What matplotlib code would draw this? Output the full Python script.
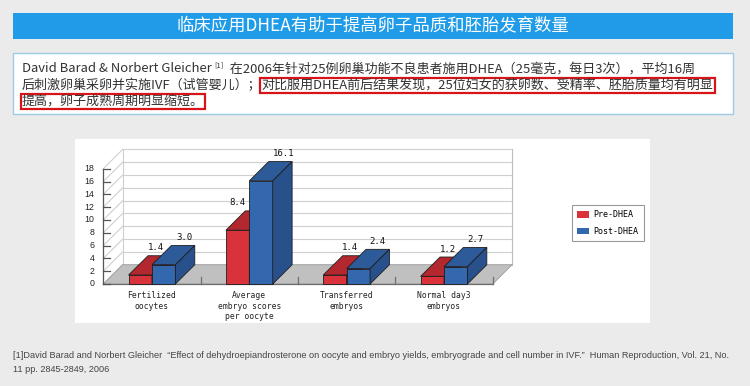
import numpy as np
import matplotlib.pyplot as plt
from matplotlib.patches import Rectangle, Polygon, Patch

plt.rcParams['font.family'] = ['Noto Sans CJK SC', 'DejaVu Sans']

# donnees du graphique
categories = ["Fertilized\noocytes", "Average\nembryo scores\nper oocyte",
              "Transferred\nembryos", "Normal day3\nembryos"]
pre_dhea = [1.4, 8.4, 1.4, 1.2]
post_dhea = [3.0, 16.1, 2.4, 2.7]
series_names = ["Pre-DHEA", "Post-DHEA"]
yticks = list(range(0, 19, 2))

titre = "临床应用DHEA有助于提高卵子品质和胚胎发育数量"
ref1 = "[1]David Barad and Norbert Gleicher  \u201cEffect of dehydroepiandrosterone on oocyte and embryo yields, embryograde and cell number in IVF.\u201d  Human Reproduction, Vol. 21, No."
ref2 = "11 pp. 2845-2849, 2006"

W, H = 750, 386
fig = plt.figure(figsize=(W / 100, H / 100), dpi=100)
fig.patch.set_facecolor('#ebebeb')
renderer = fig.canvas.get_renderer()

# fond en coordonnees pixels
bg = fig.add_axes([0, 0, 1, 1])
bg.set_xlim(0, W)
bg.set_ylim(H, 0)
bg.axis('off')

bg.add_patch(Rectangle((13, 13), 720, 26, fc='#1f9be8', ec='none'))
bg.text(373, 26, titre, color='white', fontsize=12.5, ha='center', va='center')

bg.add_patch(Rectangle((13, 53), 720, 61, fc='white', ec='#9ccbe6', lw=1))
bg.add_patch(Rectangle((75, 139), 575, 184, fc='white', ec='none'))

txt_col = '#333333'
fs = 9.4
box = dict(boxstyle='square,pad=0.1', fc='none', ec='#d7141a', lw=1.6)

# ligne 1 avec exposant
x = 22
t = bg.text(x, 72.5, "David Barad & Norbert Gleicher ", fontsize=fs, va='baseline', color=txt_col)
x += t.get_window_extent(renderer).width
t = bg.text(x, 67.5, "[1]", fontsize=5.5, va='baseline', color=txt_col)
x += t.get_window_extent(renderer).width
bg.text(x, 72.5, "  在2006年针对25例卵巢功能不良患者施用DHEA（25毫克，每日3次），平均16周",
        fontsize=fs, va='baseline', color=txt_col)

x = 22
t = bg.text(x, 89, "后刺激卵巢采卵并实施IVF（试管婴儿）；", fontsize=fs, va='baseline', color=txt_col)
x += t.get_window_extent(renderer).width
bg.text(x, 89, "对比服用DHEA前后结果发现，25位妇女的获卵数、受精率、胚胎质量均有明显",
        fontsize=fs, va='baseline', color=txt_col, bbox=box)
bg.text(22, 105, "提高，卵子成熟周期明显缩短。", fontsize=fs, va='baseline', color=txt_col, bbox=box)

# reference en bas
fn = ['Liberation Sans Narrow', 'Liberation Sans', 'DejaVu Sans']
t1 = bg.text(13, 355, ref1, fontsize=6.5, family=fn, va='center', color='#444444')
w = t1.get_window_extent(renderer).width
t1.set_fontsize(6.5 * 715 / w)
bg.text(13, 369, ref2, fontsize=t1.get_fontsize(), family=fn, va='center', color='#444444')

# graphique 3D simule
n = len(categories)
ax_w, ax_h = 389.4, 115.3          # taille de la zone en pixels
ax = fig.add_axes([103.3 / W, 1 - 284 / H, ax_w / W, ax_h / H])
ax.set_xlim(0, n)
ax.set_ylim(0, 18)
ax.axis('off')
px_x = ax_w / n
px_y = ax_h / 18
dx = 19.4 / px_x
dy = 19.3 / px_y

grid_col = '#cfcfcf'
for v in yticks:
    ax.plot([dx, n + dx], [v + dy, v + dy], color=grid_col, lw=0.8, zorder=1, clip_on=False)
    ax.plot([0, dx], [v, v + dy], color=grid_col, lw=0.8, zorder=1, clip_on=False)
ax.plot([dx, dx], [dy, 18 + dy], color=grid_col, lw=0.8, zorder=1, clip_on=False)
ax.plot([n + dx, n + dx], [dy, 18 + dy], color='#bdbdbd', lw=0.8, zorder=1, clip_on=False)

ax.add_patch(Polygon([(0, 0), (n, 0), (n + dx, dy), (dx, dy)], closed=True,
                     fc='#c0c0c0', ec='#9a9a9a', lw=0.6, zorder=2, clip_on=False))
ax.plot([0, n], [0, 0], color='#6e6e6e', lw=0.9, zorder=2, clip_on=False)
ax.plot([0, 0], [0, 18], color='#555555', lw=0.9, zorder=2, clip_on=False)
for v in yticks:
    ax.plot([0, 7 / px_x], [v, v], color='#555555', lw=0.9, zorder=2, clip_on=False)
    ax.text(-9 / px_x, v, str(v), ha='right', va='center', fontsize=6.3,
            family='Liberation Sans', color='#222222')
for i in range(1, n + 1):
    ax.plot([i, i], [0, 7 / px_y], color='#6e6e6e', lw=0.9, zorder=2, clip_on=False)

mono = 'DejaVu Sans Mono'
for i, lab in enumerate(categories):
    ax.text(i + 0.5, -7.5 / px_y, lab, ha='center', va='top', fontsize=5.8,
            family=mono, linespacing=1.2, color='#222222')

bw = 23.4 / px_x
colors = [('#d9323a', '#b3272e', '#a42328'), ('#3468ae', '#2d5a98', '#28508a')]
label_shift_px = [[-4, -20, -4, -4], [1, 3, 0, 0]]
xs = np.arange(n) + 0.5
for k, vals in enumerate([pre_dhea, post_dhea]):
    front, top, side = colors[k]
    z = 3 + k
    bars = ax.bar(xs - bw + k * bw, vals, width=bw, align='edge', color=front,
                  edgecolor='#1e1e1e', linewidth=0.6, zorder=z, clip_on=False)
    for j, b in enumerate(bars):
        x0, h, w = b.get_x(), b.get_height(), b.get_width()
        ax.add_patch(Polygon([(x0, h), (x0 + w, h), (x0 + w + dx, h + dy), (x0 + dx, h + dy)],
                             closed=True, fc=top, ec='#1e1e1e', lw=0.6, zorder=z, clip_on=False))
        ax.add_patch(Polygon([(x0 + w, 0), (x0 + w + dx, dy), (x0 + w + dx, h + dy), (x0 + w, h)],
                             closed=True, fc=side, ec='#1e1e1e', lw=0.6, zorder=z, clip_on=False))
        ax.text(x0 + w / 2 + dx + label_shift_px[k][j] / px_x, h + dy + 8 / px_y,
                f"{vals[j]:.1f}", ha='center', va='center', fontsize=6.5, family=mono,
                color='#111111', zorder=6, clip_on=False)

handles = [Patch(fc=colors[0][0], ec='none'), Patch(fc=colors[1][0], ec='none')]
leg = fig.legend(handles, series_names, loc='center', bbox_to_anchor=(607.7 / W, 1 - 223 / H),
                 frameon=True, fancybox=False, edgecolor='#808080',
                 prop={'family': mono, 'size': 6}, handlelength=1.4, handleheight=0.8,
                 borderpad=0.6, labelspacing=0.9, handletextpad=0.6)
leg.get_frame().set_linewidth(0.8)

fig.savefig("out.png", dpi=100, facecolor=fig.get_facecolor())
